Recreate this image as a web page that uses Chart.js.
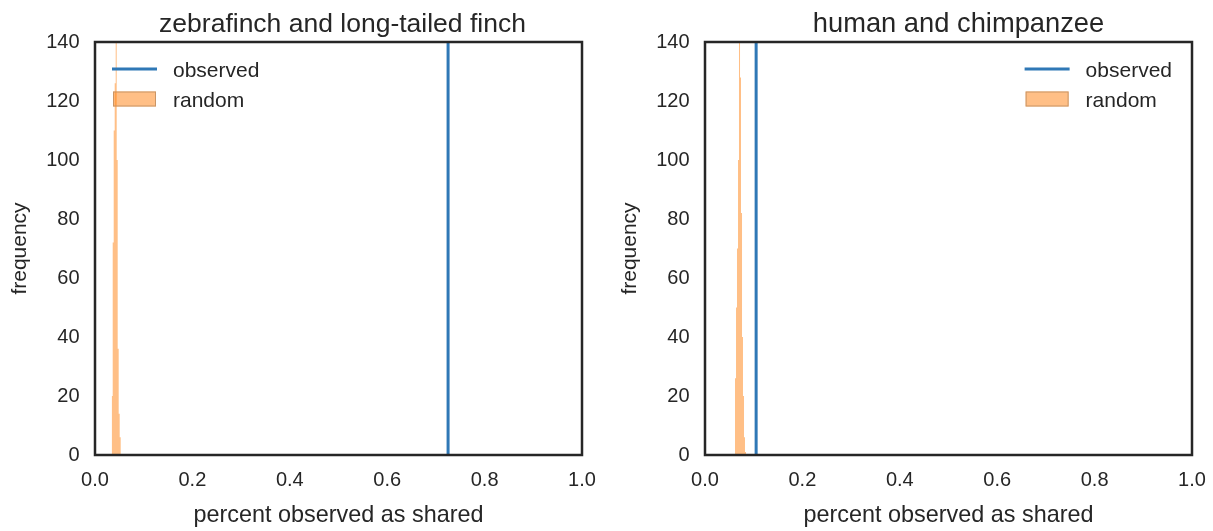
<!DOCTYPE html>
<html>
<head>
<meta charset="utf-8">
<script src="https://cdn.jsdelivr.net/npm/chart.js@4.4.1/dist/chart.umd.min.js"></script>
<style>
  html, body { margin: 0; padding: 0; background: #fff; }
  #wrap { position: relative; width: 1213px; height: 531px; }
  canvas { position: absolute; top: 0; }
  #finch { left: 0; }
  #ape { left: 606px; }
</style>
</head>
<body>
<div id="wrap">
  <canvas id="finch" width="606" height="531"></canvas>
  <canvas id="ape" width="607" height="531"></canvas>
</div>
<script>
const xTicks = [0, 0.2, 0.4, 0.6, 0.8, 1.0];
const yTicks = [0, 20, 40, 60, 80, 100, 120, 140];

// zebrafinch vs long-tailed finch
const finchObserved = 0.725;
const finchEdges = [0.0343, 0.03635, 0.0384, 0.04045, 0.0425, 0.04455, 0.0466, 0.04865, 0.0507, 0.05275, 0.0548];
const finchCounts = [9, 20, 72, 110, 126, 172, 100, 36, 14, 6];

// human vs chimpanzee
const apeObserved = 0.105;
const apeEdges = [0.0616, 0.0637, 0.0657, 0.0678, 0.0698, 0.0719, 0.0739, 0.0760, 0.0780, 0.0801, 0.0821, 0.0842, 0.0862];
const apeCounts = [5, 26, 50, 70, 100, 165, 128, 82, 40, 20, 6, 1];

const INK = '#262626';
const BLUE = '#2f78b6';
const ORANGE = 'rgba(255,127,14,0.5)';
const FONT = "'Liberation Sans', Arial, sans-serif";

// stepped outline of a histogram: each count holds from its left edge to the next
function histPoints(edges, counts) {
  const pts = counts.map((c, i) => ({ x: edges[i], y: c }));
  pts.push({ x: edges[edges.length - 1], y: 0 });
  return pts;
}

const frame = {
  id: 'frame',
  afterDatasetsDraw(chart) {
    const { ctx, chartArea: a } = chart;
    ctx.save();
    ctx.strokeStyle = INK;
    ctx.lineWidth = 2.5;
    ctx.strokeRect(a.left, a.top, a.right - a.left, a.bottom - a.top);
    ctx.restore();
  }
};

// axes title, centred over the plot area (shifted by dx)
const axTitle = {
  id: 'axTitle',
  afterDraw(chart, args, opts) {
    const { ctx, chartArea: a } = chart;
    ctx.save();
    ctx.font = opts.size + 'px ' + FONT;
    ctx.fillStyle = INK;
    ctx.textAlign = 'center';
    ctx.textBaseline = 'alphabetic';
    ctx.fillText(opts.text, (a.left + a.right) / 2 + opts.dx, a.top - 10.5);
    ctx.restore();
  }
};

const boxLegend = {
  id: 'boxLegend',
  afterDraw(chart, args, opts) {
    const { ctx, chartArea: a } = chart;
    const sets = chart.data.datasets;
    ctx.save();
    ctx.font = '21px ' + FONT;
    const textW = Math.max(...sets.map(d => ctx.measureText(d.label).width));
    const textX = opts.align === 'right' ? a.right - 20 - textW : a.left + 78;
    const lineX = textX - 61;
    sets.forEach((d, i) => {
      const y = a.top + 27 + i * 30;
      if (d.legendKind === 'line') {
        ctx.strokeStyle = d.borderColor;
        ctx.lineWidth = 3;
        ctx.beginPath();
        ctx.moveTo(lineX, y);
        ctx.lineTo(lineX + 45, y);
        ctx.stroke();
      } else {
        ctx.fillStyle = d.backgroundColor;
        ctx.fillRect(lineX + 1, y - 7.5, 43, 15);
        ctx.strokeStyle = '#c99566';
        ctx.lineWidth = 1;
        ctx.strokeRect(lineX + 1.5, y - 7, 42, 14);
      }
      ctx.fillStyle = INK;
      ctx.textBaseline = 'alphabetic';
      ctx.textAlign = 'left';
      ctx.fillText(d.label, textX, y + 8);
    });
    ctx.restore();
  }
};

function makeChart(id, title, titleSize, titleDx, observed, edges, counts, legendAlign, padLeft, padRight) {
  return new Chart(document.getElementById(id), {
    type: 'line',
    data: {
      datasets: [
        {
          label: 'observed',
          legendKind: 'line',
          data: [{ x: observed, y: 0 }, { x: observed, y: 140 }],
          borderColor: BLUE,
          borderWidth: 3,
          pointRadius: 0
        },
        {
          label: 'random',
          legendKind: 'patch',
          data: histPoints(edges, counts),
          stepped: 'after',
          fill: 'origin',
          backgroundColor: ORANGE,
          borderColor: ORANGE,
          borderWidth: 0,
          pointRadius: 0
        }
      ]
    },
    options: {
      responsive: false,
      devicePixelRatio: 1,
      animation: false,
      layout: { padding: { left: padLeft, right: padRight, top: 42, bottom: 0 } },
      plugins: {
        legend: { display: false },
        tooltip: { enabled: false },
        title: { display: false },
        axTitle: { text: title, size: titleSize, dx: titleDx },
        boxLegend: { align: legendAlign }
      },
      scales: {
        x: {
          type: 'linear',
          min: 0,
          max: 1,
          afterBuildTicks: s => { s.ticks = xTicks.map(v => ({ value: v })); },
          afterFit: s => { s.height = 76; s.paddingLeft = 0; s.paddingRight = 0; },
          ticks: {
            color: INK,
            font: { family: FONT, size: 20 },
            padding: 13,
            maxRotation: 0,
            callback: v => v.toFixed(1)
          },
          grid: { display: false, drawTicks: false },
          border: { display: false },
          title: {
            display: true,
            text: 'percent observed as shared',
            color: INK,
            font: { family: FONT, size: 23.4 },
            padding: { bottom: 1.8 }
          }
        },
        y: {
          min: 0,
          max: 140,
          afterBuildTicks: s => { s.ticks = yTicks.map(v => ({ value: v })); },
          afterFit: s => { s.width = 95; s.paddingTop = 0; s.paddingBottom = 0; },
          ticks: {
            color: INK,
            font: { family: FONT, size: 20 },
            padding: 15.5
          },
          grid: { display: false, drawTicks: false },
          border: { display: false },
          title: {
            display: true,
            text: 'frequency',
            color: INK,
            font: { family: FONT, size: 21 },
            padding: { top: 7.4 }
          }
        }
      }
    },
    plugins: [frame, axTitle, boxLegend]
  });
}

makeChart('finch', 'zebrafinch and long-tailed finch', 26.5, 4, finchObserved, finchEdges, finchCounts, 'left', 0, 24);
makeChart('ape', 'human and chimpanzee', 27.3, 10, apeObserved, apeEdges, apeCounts, 'right', 4, 21);
</script>
</body>
</html>
